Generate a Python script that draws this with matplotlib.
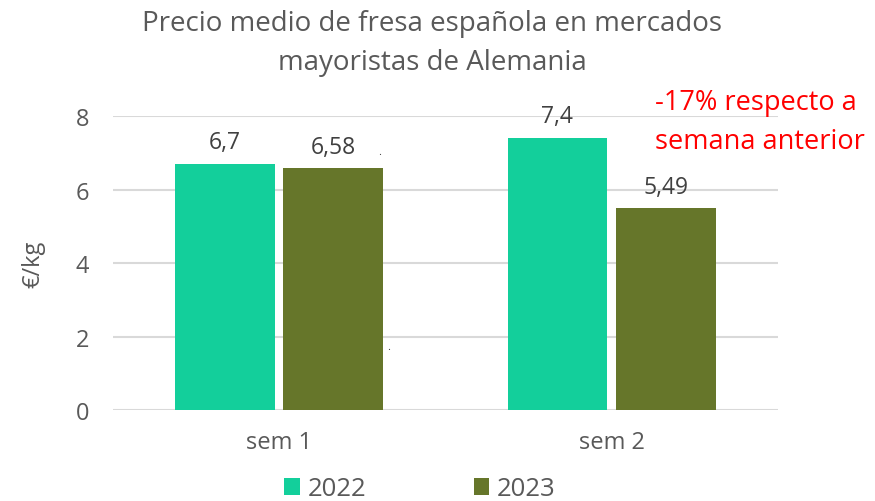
import matplotlib
matplotlib.use("Agg")
import matplotlib.pyplot as plt
import numpy as np

categories = ["sem 1", "sem 2"]
series_names = ["2022", "2023"]
values_2022 = [6.7, 7.4]
values_2023 = [6.58, 5.49]
labels_2022 = ["6,7", "7,4"]
labels_2023 = ["6,58", "5,49"]
yticks = [0, 2, 4, 6, 8]

plt.rcParams['font.family'] = ['Open Sans', 'DejaVu Sans']

c2022 = "#13CF9B"
c2023 = "#66762A"
grey = "#595959"

fig = plt.figure(figsize=(8.75, 5.02), dpi=100)
ax = fig.add_axes([0.129, 0.181, 0.76, 0.5857])

x = np.arange(len(categories))
w = 0.30
off = 0.163
b1 = ax.bar(x - off, values_2022, w, color=c2022, label=series_names[0], zorder=3)
b2 = ax.bar(x + off, values_2023, w, color=c2023, label=series_names[1], zorder=3)

for rect, lab in zip(b1, labels_2022):
    ax.annotate(lab, (rect.get_x() + rect.get_width() / 2, rect.get_height()),
                xytext=(0, 7), textcoords="offset points", ha="center", va="bottom",
                fontsize=16.5, color="#404040")
for rect, lab in zip(b2, labels_2023):
    ax.annotate(lab, (rect.get_x() + rect.get_width() / 2, rect.get_height()),
                xytext=(0, 7), textcoords="offset points", ha="center", va="bottom",
                fontsize=16.5, color="#404040")

ax.set_xlim(-0.5, 1.5)
ax.set_ylim(0, 8)
ax.set_yticks(yticks)
ax.set_yticklabels([str(t) for t in yticks], fontsize=17, color=grey)
ax.set_xticks(x)
ax.set_xticklabels(categories, fontsize=17, color=grey)
ax.tick_params(axis="y", length=0, pad=17)
ax.tick_params(axis="x", length=0, pad=14)
ax.yaxis.grid(True, color="#D9D9D9", linewidth=1.5, zorder=0)
for s in ax.spines.values():
    s.set_visible(False)

ax.set_ylabel("€/kg", fontsize=17, color=grey, labelpad=22)

fig.text(0.494, 0.98, "Precio medio de fresa española en mercados\nmayoristas de Alemania",
         ha="center", va="top", fontsize=20, color=grey, linespacing=1.5)

fig.text(0.749, 0.823, "-17% respecto a\nsemana anterior", ha="left", va="top",
         fontsize=19.5, color="#FF0000", linespacing=1.55)

# small stray dots
fig.text(380 / 875, 1 - 153 / 502, ".", fontsize=8, color="#404040", ha="center", va="center")
fig.text(389 / 875, 1 - 347 / 502, ".", fontsize=8, color="#404040", ha="center", va="center")

leg = fig.legend(handles=[b1, b2], labels=series_names, loc="center",
                 bbox_to_anchor=(0.48, 0.024), ncol=2, frameon=False,
                 fontsize=18.5, handlelength=0.6, handleheight=0.6,
                 columnspacing=4.2, handletextpad=0.3)
for t in leg.get_texts():
    t.set_color(grey)

fig.savefig("out.png", dpi=100)
